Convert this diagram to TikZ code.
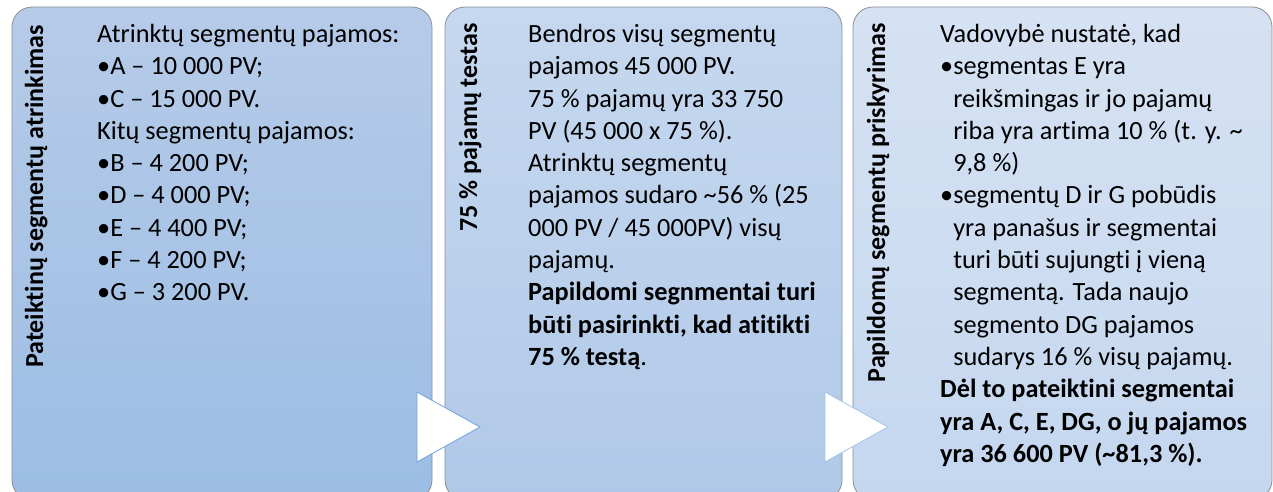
\documentclass[tikz,border=0pt]{standalone}
\usepackage{fontspec}
\setmainfont{Carlito}[Ligatures=NoCommon]
\usetikzlibrary{positioning}
\definecolor{edgegray}{HTML}{8A8F96}
\definecolor{oneTop}{HTML}{B6CBE8}
\definecolor{oneBot}{HTML}{9CBDE4}
\definecolor{twoTop}{HTML}{C6D8EF}
\definecolor{twoBot}{HTML}{B0C9E8}
\definecolor{threeTop}{HTML}{D6E2F3}
\definecolor{threeBot}{HTML}{C4D7EF}
\definecolor{tipOne}{HTML}{6FA3DC}
\definecolor{tipTwo}{HTML}{A2C2E8}
\tikzset{
  panel/.style={draw=edgegray, line width=0.8pt, rounded corners=20pt},
  sidelabel/.style={rotate=90, anchor=base east, inner sep=0pt,
    font=\bfseries\fontsize{26}{30}\selectfont},
  bodytext/.style={anchor=north west, inner sep=0pt, align=left,
    font=\fontsize{26.3}{32.3}\selectfont},
  pointer/.style={fill=white, draw=#1, line width=0.8pt},
}
\newcommand\hang{\phantom{•}}

\begin{document}
\begin{tikzpicture}[x=1pt,y=-1pt]
  \useasboundingbox (0,0) rectangle (1273,492);
  \clip (0,0) rectangle (1273,492);

  % panels
  \shade[panel, top color=oneTop, bottom color=oneBot] (12,7) rectangle (432,500);
  \shade[panel, top color=twoTop, bottom color=twoBot] (445,7) rectangle (842,500);
  \shade[panel, top color=threeTop, bottom color=threeBot] (853,7) rectangle (1272,500);

  % side labels
  \node[sidelabel] (labone) at (43,25) {Pateiktinų segmentų atrinkimas};
  \node[sidelabel] (labtwo) at (477,23) {75 \% pajamų testas};
  \node[sidelabel] (labthree) at (885,23) {Papildomų segmentų priskyrimas};

  % texts
  \node[bodytext] (textone) at (97,24) {Atrinktų segmentų pajamos:\\
    •A – 10 000 PV;\\
    •C – 15 000 PV.\\
    Kitų segmentų pajamos:\\
    •B – 4 200 PV;\\
    •D – 4 000 PV;\\
    •E – 4 400 PV;\\
    •F – 4 200 PV;\\
    •G – 3 200 PV.};

  \node[bodytext] (texttwo) at (528,24) {Bendros visų segmentų\\
    pajamos 45 000 PV.\\
    75 \% pajamų yra 33 750\\
    PV (45 000 x 75 \%).\\
    Atrinktų segmentų\\
    pajamos sudaro \textasciitilde56 \% (25\\
    000 PV / 45 000PV) visų\\
    pajamų.\\
    \textbf{Papildomi segnmentai turi}\\
    \textbf{būti pasirinkti, kad atitikti}\\
    \textbf{75 \% testą}.};

  \node[bodytext] (textthree) at (940,24) {Vadovybė nustatė, kad\\
    •segmentas E yra\\
    \hang reikšmingas ir jo pajamų\\
    \hang riba yra artima 10 \% (t. y. \textasciitilde\\
    \hang 9,8 \%)\\
    •segmentų D ir G pobūdis\\
    \hang yra panašus ir segmentai\\
    \hang turi būti sujungti į vieną\\
    \hang segmentą. Tada naujo\\
    \hang segmento DG pajamos\\
    \hang sudarys 16 \% visų pajamų.\\
    \textbf{Dėl to pateiktini segmentai}\\
    \textbf{yra A, C, E, DG, o jų pajamos}\\
    \textbf{yra 36 600 PV (\textasciitilde81,3 \%).}};

  % pointers
  \draw[pointer=tipOne] (417,392) -- (480,427) -- (417,462) -- cycle;
  \draw[pointer=tipTwo] (825,392) -- (888,427) -- (825,462) -- cycle;
\end{tikzpicture}
\end{document}
